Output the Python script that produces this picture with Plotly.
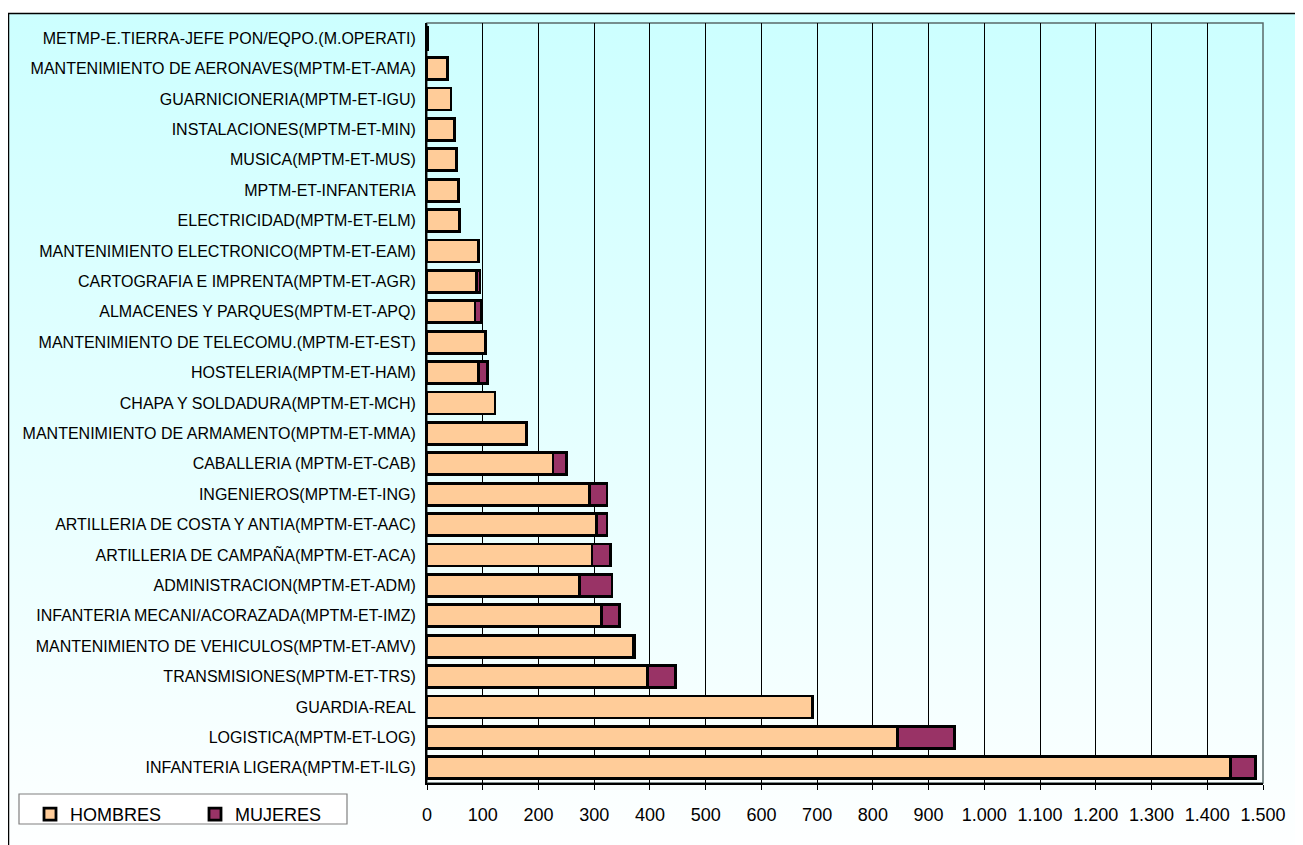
import base64
import plotly.graph_objects as go

categories = [
    "METMP-E.TIERRA-JEFE PON/EQPO.(M.OPERATI)",
    "MANTENIMIENTO DE AERONAVES(MPTM-ET-AMA)",
    "GUARNICIONERIA(MPTM-ET-IGU)",
    "INSTALACIONES(MPTM-ET-MIN)",
    "MUSICA(MPTM-ET-MUS)",
    "MPTM-ET-INFANTERIA",
    "ELECTRICIDAD(MPTM-ET-ELM)",
    "MANTENIMIENTO ELECTRONICO(MPTM-ET-EAM)",
    "CARTOGRAFIA E IMPRENTA(MPTM-ET-AGR)",
    "ALMACENES Y PARQUES(MPTM-ET-APQ)",
    "MANTENIMIENTO DE TELECOMU.(MPTM-ET-EST)",
    "HOSTELERIA(MPTM-ET-HAM)",
    "CHAPA Y SOLDADURA(MPTM-ET-MCH)",
    "MANTENIMIENTO DE ARMAMENTO(MPTM-ET-MMA)",
    "CABALLERIA (MPTM-ET-CAB)",
    "INGENIEROS(MPTM-ET-ING)",
    "ARTILLERIA DE COSTA Y ANTIA(MPTM-ET-AAC)",
    "ARTILLERIA DE CAMPAÑA(MPTM-ET-ACA)",
    "ADMINISTRACION(MPTM-ET-ADM)",
    "INFANTERIA MECANI/ACORAZADA(MPTM-ET-IMZ)",
    "MANTENIMIENTO DE VEHICULOS(MPTM-ET-AMV)",
    "TRANSMISIONES(MPTM-ET-TRS)",
    "GUARDIA-REAL",
    "LOGISTICA(MPTM-ET-LOG)",
    "INFANTERIA LIGERA(MPTM-ET-ILG)",
]

hombres = [1, 37, 43, 50, 53, 57, 59, 92, 89, 86, 105, 93, 122, 178,
           226, 292, 304, 296, 273, 313, 370, 395, 691, 844, 1441]
mujeres = [0, 0, 0, 0, 0, 0, 0, 0, 6, 11, 0, 16, 0, 0,
           24, 31, 19, 33, 59, 33, 3, 51, 0, 103, 46]

x_ticks = list(range(0, 1501, 100))

FONT = "Liberation Sans, Arial, sans-serif"

# the page body adds an 8px offset; figure size is reduced accordingly
OFF = 8
W, H = 1303 - OFF, 845 - OFF
L, R, T, B = 427 - OFF, 40, 23 - OFF, 62
PW, PH = W - L - R, H - T - B


def px(x):
    """page pixel x -> paper coordinate"""
    return (x - OFF - L) / PW


def py(y):
    """page pixel y -> paper coordinate"""
    return (H - B - (y - OFF)) / PH


svg = ('<svg xmlns="http://www.w3.org/2000/svg" width="100" height="100" '
       'viewBox="0 0 100 100" preserveAspectRatio="none">'
       '<defs><linearGradient id="g" x1="0" y1="0" x2="0" y2="1">'
       '<stop offset="0" stop-color="#CCFFFF"/>'
       '<stop offset="1" stop-color="#FFFFFF"/>'
       '</linearGradient></defs>'
       '<rect x="0" y="0" width="100" height="100" fill="url(#g)"/></svg>')
svg_uri = "data:image/svg+xml;base64," + base64.b64encode(svg.encode()).decode()

fig = go.Figure()
fig.add_trace(go.Bar(
    y=categories, x=hombres, orientation="h", name="HOMBRES",
    marker=dict(color="#FFCC99", line=dict(color="black", width=2.8)),
))
fig.add_trace(go.Bar(
    y=categories, x=mujeres, orientation="h", name="MUJERES",
    marker=dict(color="#993366", line=dict(color="black", width=2.8)),
))

fig.update_layout(
    width=W, height=H,
    margin=dict(l=L, r=R, t=T, b=B, pad=0),
    barmode="stack",
    bargap=0.28,
    paper_bgcolor="white",
    plot_bgcolor="rgba(0,0,0,0)",
    separators=",.",
    font=dict(family=FONT, size=16, color="black"),
    images=[dict(
        source=svg_uri, xref="paper", yref="paper",
        x=px(8), y=py(13), sizex=px(1330) - px(8), sizey=py(13) - py(870),
        xanchor="left", yanchor="top", sizing="stretch", layer="below",
    )],
    shapes=[
        # outer chart border
        dict(type="rect", xref="paper", yref="paper",
             x0=px(8.5), x1=px(1340), y0=py(880), y1=py(13.5),
             line=dict(color="black", width=1.5), fillcolor="rgba(0,0,0,0)",
             layer="below"),
        # plot area frame
        dict(type="rect", xref="paper", yref="paper",
             x0=0, x1=1, y0=0, y1=1,
             line=dict(color="#5a6a6a", width=1.5), fillcolor="rgba(0,0,0,0)",
             layer="below"),
        # legend box
        dict(type="rect", xref="paper", yref="paper",
             x0=px(19), x1=px(347), y0=py(824), y1=py(794),
             line=dict(color="#808080", width=1.2), fillcolor="white",
             layer="below"),
    ],
    legend=dict(
        orientation="h", x=px(30), y=py(796), xanchor="left", yanchor="top",
        bgcolor="rgba(0,0,0,0)", borderwidth=0,
        font=dict(family=FONT, size=18, color="black"),
        entrywidth=120, entrywidthmode="pixels",
        traceorder="normal",
    ),
    xaxis=dict(
        range=[0, 1500], tickvals=x_ticks, tickformat=",d",
        showgrid=True, gridcolor="black", gridwidth=1,
        showline=True, linecolor="black", linewidth=1.5,
        ticks="outside", ticklen=5, tickcolor="black", tickwidth=1,
        tickfont=dict(family=FONT, size=18, color="black"),
        ticklabelstandoff=10,
        zeroline=False, fixedrange=True,
    ),
    yaxis=dict(
        autorange="reversed", type="category",
        showgrid=False, showline=True, linecolor="black", linewidth=2,
        ticks="", ticklabelstandoff=6,
        tickfont=dict(family=FONT, size=16, color="black"),
        zeroline=False, fixedrange=True,
    ),
)

fig.write_html("out.html")
